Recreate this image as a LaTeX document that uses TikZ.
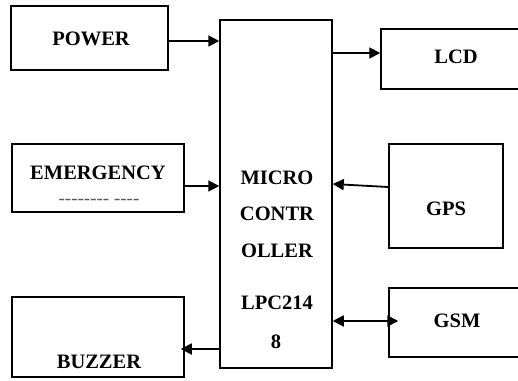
\documentclass[tikz,border=0pt]{standalone}
\usepackage{fontspec}
\setmainfont{Liberation Serif}
\usetikzlibrary{arrows.meta}
\begin{document}
\begin{tikzpicture}[x=1pt,y=-1pt,
  blk/.style={draw,line width=1.5pt,inner sep=0pt},
  lbl/.style={font=\fontsize{20.5}{20.5}\selectfont\bfseries,inner sep=0pt,anchor=center},
  conn/.style={line width=1.8pt,-{Triangle[length=11pt,width=11pt]}},
  conn2/.style={line width=1.8pt,{Triangle[length=11pt,width=11pt]}-{Triangle[length=11pt,width=11pt]}}]
\clip (0,0) rectangle (518,380);
\path[use as bounding box] (0,0) rectangle (518,380);
% boxes
\node[blk,minimum width=157pt,minimum height=64pt] (power) at (89.5,38) {};
\node[blk,minimum width=112pt,minimum height=348pt] (mcu) at (276,194) {};
\node[blk,minimum width=160pt,minimum height=60pt] (lcd) at (461,59) {};
\node[blk,minimum width=172pt,minimum height=68pt] (emg) at (98,178) {};
\node[blk,minimum width=114pt,minimum height=104pt] (gps) at (446,196) {};
\node[blk,minimum width=172pt,minimum height=80pt] (buz) at (98,337) {};
\node[blk,minimum width=160pt,minimum height=69pt] (gsm) at (469,322.5) {};
% labels
\node[lbl] (tpower) at (91,39) {POWER};
\node[lbl] (tlcd) at (456,57) {LCD};
\node[lbl] (temg) at (98,173) {EMERGENCY};
\node[inner sep=0pt,text=black!65,font=\fontsize{19}{19}\selectfont] (tdash) at (99,202) {-{}-{}-{}-{}-{}-{}-{}- -{}-{}-{}-};
\node[lbl] (tgps) at (446,209) {GPS};
\node[lbl] (tbuz) at (99,362) {BUZZER};
\node[lbl] (tgsm) at (457,321) {GSM};
\node[lbl] (t1) at (277,178) {MICRO};
\node[lbl] (t2) at (277,214) {CONTR};
\node[lbl] (t3) at (277,251) {OLLER};
\node[lbl] (t4) at (277,303) {LPC214};
\node[lbl] (t5) at (276,342) {8};
% connectors
\draw[conn] (power.east |- 0,41) -- (mcu.west |- 0,41);
\draw[conn] (mcu.east |- 0,53) -- (lcd.west |- 0,53);
\draw[conn] (emg.east |- 0,186) -- (mcu.west |- 0,186);
\draw[conn] (gps.west |- 0,187) -- (mcu.east |- 0,184);
\draw[conn] (mcu.west |- 0,349) -- ([xshift=-4pt]buz.east |- 0,349);
\draw[conn2] (mcu.east |- 0,321) -- ([xshift=10pt]gsm.west |- 0,321);
\end{tikzpicture}
\end{document}
